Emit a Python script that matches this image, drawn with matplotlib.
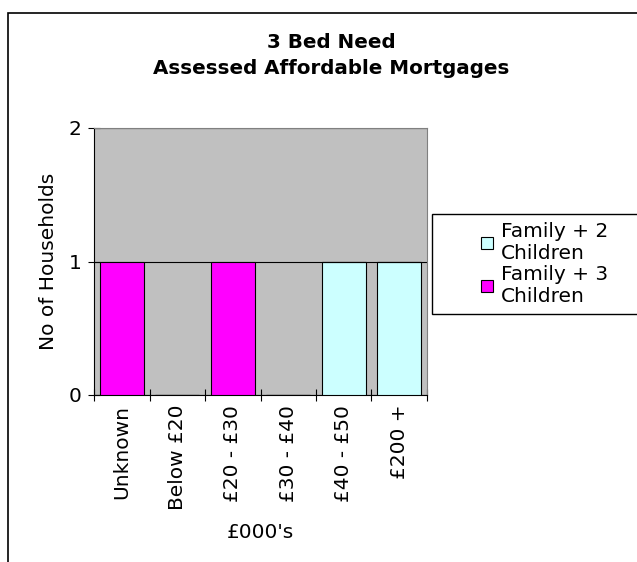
import matplotlib.pyplot as plt
from matplotlib.patches import Rectangle
import numpy as np

categories = ["Unknown", "Below £20", "£20 - £30", "£30 - £40", "£40 - £50", "£200 +"]
family_2 = [0, 0, 0, 0, 1, 1]
family_3 = [1, 0, 1, 0, 0, 0]
series_names = ["Family + 2\nChildren", "Family + 3\nChildren"]

plt.rcParams['font.family'] = ['DejaVu Sans']
fs = 14.5

fig = plt.figure(figsize=(6.37, 5.62), dpi=100)
fig.patch.set_facecolor('white')

# chart border
fig.patches.append(Rectangle((8 / 637, -0.02), 1.0, (562 - 13) / 562 + 0.02,
                             transform=fig.transFigure, fill=False,
                             edgecolor='black', linewidth=1.2))

ax = fig.add_axes([94 / 637, 1 - 395 / 562, (427 - 94) / 637, (395 - 128) / 562])
ax.set_facecolor('#c0c0c0')

x = np.arange(len(categories))
b2 = ax.bar(x, family_2, width=0.8, color='#ccffff', edgecolor='black', linewidth=0.8,
            label=series_names[0], zorder=3)
b3 = ax.bar(x, family_3, width=0.8, bottom=family_2, color='#ff00ff', edgecolor='black',
            linewidth=0.8, label=series_names[1], zorder=3)

ax.set_xlim(-0.5, len(categories) - 0.5)
ax.set_ylim(0, 2)
ax.set_yticks([0, 1, 2])
ax.yaxis.grid(True, color='black', linewidth=0.8, zorder=1)
ax.tick_params(axis='y', direction='inout', length=8, labelsize=fs, width=0.8, pad=5)

ax.set_xticks(x)
ax.set_xticklabels(categories, rotation=90, fontsize=fs)
ax.set_xticks(np.arange(-0.5, len(categories)), minor=True)
ax.tick_params(axis='x', which='major', length=0, pad=7)
ax.tick_params(axis='x', which='minor', direction='inout', length=8, width=0.8)

for side in ['top', 'right']:
    ax.spines[side].set_color('#808080')
for side in ['left', 'bottom']:
    ax.spines[side].set_color('black')
    ax.spines[side].set_linewidth(0.8)

ax.set_ylabel("No of Households", fontsize=fs, labelpad=8)
ax.set_xlabel("£000's", fontsize=fs, labelpad=9)

fig.text(331 / 637, 1 - 43 / 562, "3 Bed Need", ha='center', va='center',
         fontsize=14.3, fontweight='bold')
fig.text(331 / 637, 1 - 68 / 562, "Assessed Affordable Mortgages", ha='center', va='center',
         fontsize=14.3, fontweight='bold')

# legend box
fig.patches.append(Rectangle((432 / 637, 1 - 314 / 562), 0.5, 100 / 562,
                             transform=fig.transFigure, fill=True, facecolor='white',
                             edgecolor='black', linewidth=1.0, zorder=5))
leg = fig.legend(handles=[b2, b3], labels=series_names, loc='center left',
                 bbox_to_anchor=(471 / 637, 1 - 264 / 562), frameon=False,
                 fontsize=fs, handlelength=0.6, handleheight=0.6, handletextpad=0.4,
                 labelspacing=0.1, borderpad=0)
leg.set_zorder(6)

fig.savefig("out.png", dpi=100)
